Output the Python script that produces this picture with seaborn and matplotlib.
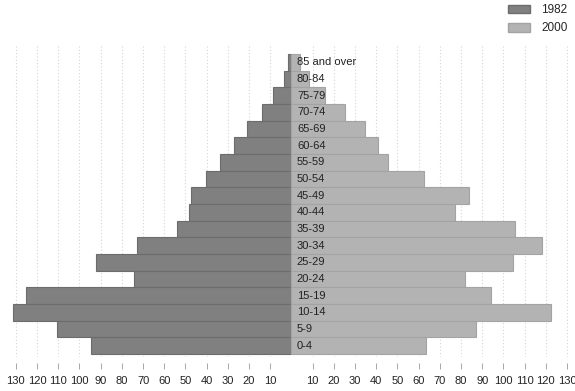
import matplotlib
matplotlib.use("Agg")
import matplotlib.pyplot as plt
import matplotlib.patches as mpatches
import numpy as np
import pandas as pd
import seaborn as sns

# age groups, top of the pyramid first
ages = ["85 and over", "80-84", "75-79", "70-74", "65-69", "60-64", "55-59",
        "50-54", "45-49", "40-44", "35-39", "30-34", "25-29", "20-24",
        "15-19", "10-14", "5-9", "0-4"]
pop_1982 = [1.5, 3.5, 8.7, 14.1, 21.0, 27.3, 33.7, 40.5, 47.4, 48.2,
            53.9, 72.7, 92.4, 74.3, 125.2, 131.6, 110.5, 94.6]
pop_2000 = [4.1, 8.1, 15.9, 25.4, 34.8, 40.8, 45.5, 62.5, 83.9, 77.1,
            105.6, 118.0, 104.5, 81.8, 94.4, 122.4, 87.0, 63.4]
tick_values = [-130, -120, -110, -100, -90, -80, -70, -60, -50, -40, -30, -20, -10,
               10, 20, 30, 40, 50, 60, 70, 80, 90, 100, 110, 120, 130]

df = pd.DataFrame({"age": ages,
                   "y1982": -np.array(pop_1982),
                   "y2000": np.array(pop_2000)})

sns.set_style("white")
plt.rcParams["font.family"] = ["Liberation Sans", "DejaVu Sans"]

dark, light = "#808080", "#b3b3b3"

fig = plt.figure(figsize=(5.75, 3.91), dpi=100)
ax = fig.add_axes([0, 1 - 357 / 391, 1, (357 - 45) / 391])

sns.barplot(data=df, x="y1982", y="age", order=ages, orient="h", color=dark,
            saturation=1, width=1, edgecolor="#6c6c6c", linewidth=0.8, ax=ax)
sns.barplot(data=df, x="y2000", y="age", order=ages, orient="h", color=light,
            saturation=1, width=1, edgecolor="#a3a3a3", linewidth=0.8, ax=ax)

# age labels just right of centre
for i, a in enumerate(ages):
    ax.text(2.6, i, a, va="center", ha="left", fontsize=8, color="#222222")

ax.set_xlim(-137.5, 133.8)
ax.set_ylim(17.5 + 3 / 16.67, -0.5 - 9 / 16.67)
ax.set_xticks(tick_values)
ax.set_xticklabels([str(abs(v)) for v in tick_values])
ax.set_yticks([])
ax.set_xlabel("")
ax.set_ylabel("")
ax.xaxis.grid(True, linestyle=(0, (1, 2)), color="#d4d4d4", linewidth=0.8)
ax.set_axisbelow(True)
for s in ax.spines.values():
    s.set_visible(False)
ax.spines["bottom"].set_position(("outward", 4.5))
ax.tick_params(axis="x", bottom=True, length=4, width=0.6, color="#999999",
               labelsize=8, labelcolor="#222222", pad=5)

handles = [mpatches.Patch(facecolor=dark, edgecolor="#6c6c6c", label="1982"),
           mpatches.Patch(facecolor=light, edgecolor="#a3a3a3", label="2000")]
fig.legend(handles=handles, loc="upper left", bbox_to_anchor=(508 / 575, 1 - 4 / 391),
           frameon=False, fontsize=8.5, handlelength=1.9, handleheight=0.75,
           handletextpad=0.9, labelspacing=0.55, borderpad=0, borderaxespad=0)

fig.savefig("out.png", dpi=100)
